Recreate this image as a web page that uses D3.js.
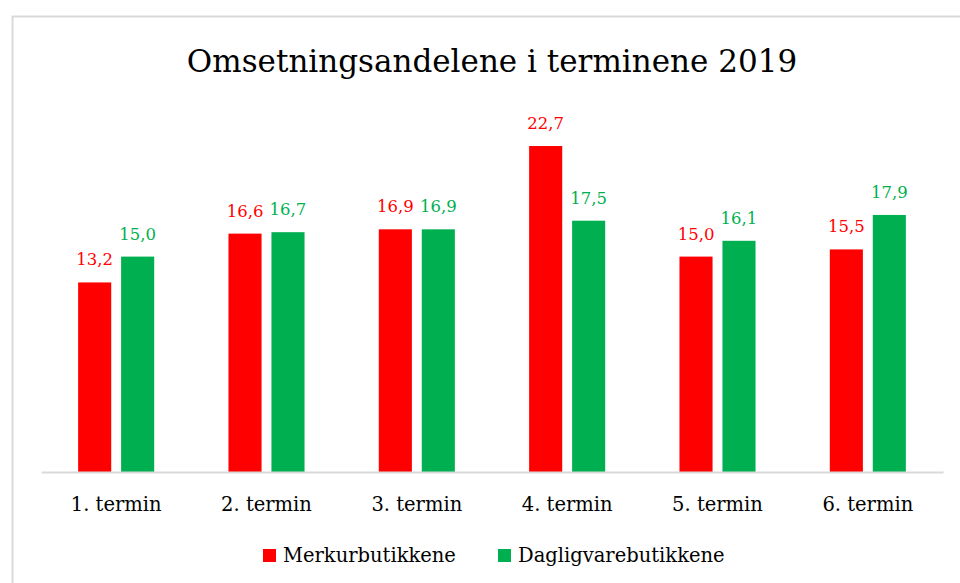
<!DOCTYPE html>
<html>
<head>
<meta charset="utf-8">
<script src="https://cdn.jsdelivr.net/npm/d3@7"></script>
<style>
  body { margin: 0; background: #fff; }
  svg text { font-family: "DejaVu Serif", "Liberation Serif", serif; }
</style>
</head>
<body>
<div id="chart"></div>
<script>
// Data
var terms = ["1. termin", "2. termin", "3. termin", "4. termin", "5. termin", "6. termin"];
var seriesNames = ["Merkurbutikkene", "Dagligvarebutikkene"];
var merkur = [13.2, 16.6, 16.9, 22.7, 15.0, 15.5];
var dagligvare = [15.0, 16.7, 16.9, 17.5, 16.1, 17.9];
var colors = ["#ff0000", "#00b050"];

var width = 960, height = 583;
var plot = { left: 41, right: 943, top: 113, bottom: 472 };

var svg = d3.select("#chart")
  .append("svg")
  .attr("width", width)
  .attr("height", height);

// chart border (cut off on the right and bottom like the original)
svg.append("rect")
  .attr("x", 12.5)
  .attr("y", 16.5)
  .attr("width", 1000)
  .attr("height", 1000)
  .attr("fill", "#fff")
  .style("stroke", "#d9d9d9")
  .style("stroke-width", 2);

// Title
svg.append("text")
  .attr("x", 492)
  .attr("y", 72)
  .attr("text-anchor", "middle")
  .style("font-size", "31px")
  .style("fill", "#000")
  .text("Omsetningsandelene i terminene 2019");

var x0 = d3.scaleBand()
  .domain(terms)
  .range([plot.left, plot.right])
  .paddingInner(0.494)
  .paddingOuter(0.247);

var x1 = d3.scaleBand()
  .domain(seriesNames)
  .range([0, x0.bandwidth()])
  .paddingInner(0.23);

var y = d3.scaleLinear()
  .domain([0, 25])
  .range([plot.bottom, plot.top]);

var rows = terms.map(function(t, i) {
  return { term: t, values: [merkur[i], dagligvare[i]] };
});

var groups = svg.selectAll("g.group")
  .data(rows)
  .enter().append("g")
  .attr("class", "group")
  .attr("transform", function(d) { return "translate(" + x0(d.term) + ",0)"; });

groups.selectAll("rect")
  .data(function(d) { return d.values.map(function(v, j) { return { name: seriesNames[j], value: v, idx: j }; }); })
  .enter().append("rect")
  .attr("x", function(d) { return x1(d.name); })
  .attr("y", function(d) { return y(d.value); })
  .attr("width", x1.bandwidth())
  .attr("height", function(d) { return plot.bottom - y(d.value); })
  .attr("fill", function(d) { return colors[d.idx]; });

groups.selectAll("text.val")
  .data(function(d) { return d.values.map(function(v, j) { return { name: seriesNames[j], value: v, idx: j }; }); })
  .enter().append("text")
  .attr("class", "val")
  .attr("x", function(d) { return x1(d.name) + x1.bandwidth() / 2; })
  .attr("y", function(d) { return y(d.value) - 17; })
  .attr("text-anchor", "middle")
  .style("font-size", "16.5px")
  .style("fill", function(d) { return colors[d.idx]; })
  .text(function(d) { return d.value.toFixed(1).replace(".", ","); });

// X axis
var xAxis = svg.append("g")
  .attr("class", "x-axis")
  .attr("transform", "translate(0," + plot.bottom + ")")
  .call(d3.axisBottom(x0).tickSize(0).tickSizeOuter(0));

xAxis.select(".domain")
  .style("stroke", "#d9d9d9")
  .style("stroke-width", 2);

xAxis.selectAll("text")
  .attr("y", 39)
  .attr("dy", null)
  .style("font-family", "DejaVu Serif, serif")
  .style("font-size", "19.5px")
  .style("fill", "#000");

// Legend
var legendItems = [
  { name: seriesNames[0], color: colors[0], x: 263 },
  { name: seriesNames[1], color: colors[1], x: 498 }
];

var legend = svg.selectAll("g.legend")
  .data(legendItems)
  .enter().append("g")
  .attr("class", "legend")
  .attr("transform", function(d) { return "translate(" + d.x + ",549)"; });

legend.append("rect")
  .attr("width", 13)
  .attr("height", 13)
  .attr("fill", function(d) { return d.color; });

legend.append("text")
  .attr("x", 20)
  .attr("y", 12.5)
  .style("font-size", "19.5px")
  .style("fill", "#000")
  .text(function(d) { return d.name; });
</script>
</body>
</html>
